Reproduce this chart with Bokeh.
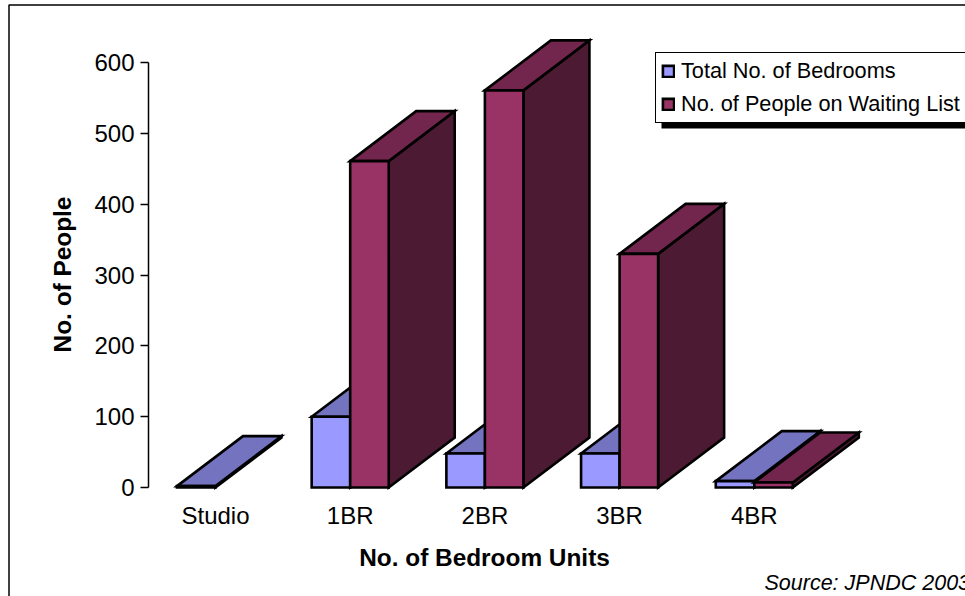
from bokeh.plotting import figure
from bokeh.models import (ColumnDataSource, FixedTicker, Legend, LegendItem, Label, BoxAnnotation)
from bokeh.embed import file_html
from bokeh.resources import INLINE
import numpy as np

categories = ["Studio", "1BR", "2BR", "3BR", "4BR"]
total_bedrooms = [2, 100, 48, 48, 9]
waiting_list = [None, 461, 561, 330, 7]
series_names = ["Total No. of Bedrooms", "No. of People on Waiting List"]
y_ticks = [0, 100, 200, 300, 400, 500, 600]

FONT = "Liberation Sans"
BAR_W = 0.286     # category units
DEPTH_X = 0.49    # category units
DEPTH_Y = 70.6    # value units
W, H = 965, 596

p = figure(width=W, height=H, output_backend="svg", toolbar_location=None,
           x_range=(-1.5961, 5.568), y_range=(-153.95, 687.9),
           min_border_left=0, min_border_right=0, min_border_top=0, min_border_bottom=0,
           background_fill_color="white", border_fill_color="white")
p.outline_line_color = None
p.grid.visible = False

ya = p.yaxis[0]
ya.fixed_location = -0.4974
ya.ticker = FixedTicker(ticks=y_ticks)
ya.bounds = (0, 600)
ya.major_label_text_font = FONT
ya.major_label_text_font_size = "24px"
ya.major_label_text_color = "black"
ya.major_label_standoff = 6
ya.axis_line_color = "black"
ya.axis_line_width = 1.5
ya.major_tick_line_color = "black"
ya.major_tick_line_width = 1.5
ya.major_tick_in = 0
ya.major_tick_out = 8
ya.minor_tick_line_color = None

xa = p.xaxis[0]
xa.fixed_location = -4.24
xa.ticker = FixedTicker(ticks=list(range(len(categories))))
xa.major_label_overrides = {i: c for i, c in enumerate(categories)}
xa.axis_line_color = None
xa.major_tick_line_color = None
xa.minor_tick_line_color = None
xa.major_label_standoff = 5
xa.major_label_text_font = FONT
xa.major_label_text_font_size = "24px"
xa.major_label_text_color = "black"


def faces(values, offset):
    """Front, top and side faces of each bar, from its value."""
    idx = [i for i, v in enumerate(values) if v is not None]
    v = np.array([values[i] for i in idx], dtype=float)
    x0 = np.array(idx, dtype=float) + offset
    x1 = x0 + BAR_W
    front = dict(left=x0, right=x1, top=v, bottom=np.zeros_like(v))
    top = dict(xs=[[a, a + DEPTH_X, b + DEPTH_X, b] for a, b in zip(x0, x1)],
               ys=[[t, t + DEPTH_Y, t + DEPTH_Y, t] for t in v])
    side = dict(xs=[[b, b + DEPTH_X, b + DEPTH_X, b] for b in x1],
                ys=[[0, DEPTH_Y, t + DEPTH_Y, t] for t in v])
    return front, top, side


line = dict(line_color="black", line_width=2.6, line_join="miter")
front_renderers = []
for values, offset, (c_front, c_top, c_side) in [
    (total_bedrooms, -BAR_W, ("#9999FF", "#7373BF", "#4D4D80")),
    (waiting_list, 0.0, ("#993366", "#73264D", "#4D1A33")),
]:
    front, top, side = faces(values, offset)
    p.patches("xs", "ys", source=ColumnDataSource(side), fill_color=c_side, **line)
    p.patches("xs", "ys", source=ColumnDataSource(top), fill_color=c_top, **line)
    front_renderers.append(p.quad(left="left", right="right", top="top", bottom="bottom",
                                  source=ColumnDataSource(front), fill_color=c_front, **line))

# chart-area border
p.add_layout(BoxAnnotation(left=8.5, right=3000, top=4.5, bottom=3000,
                           left_units="canvas", right_units="canvas",
                           top_units="canvas", bottom_units="canvas",
                           fill_alpha=0, line_color="black", line_alpha=1, line_width=1.5))

# legend shadow + legend
p.add_layout(BoxAnnotation(left=661, right=3000, top=128, bottom=122,
                           left_units="canvas", right_units="canvas",
                           top_units="canvas", bottom_units="canvas",
                           fill_color="black", fill_alpha=1, line_color="black", line_alpha=1, line_width=0))
legend = Legend(items=[LegendItem(label=series_names[i], renderers=[front_renderers[i]]) for i in range(2)],
                location=(655, 473), orientation="vertical",
                label_text_font=FONT, label_text_font_size="21.7px", label_text_color="black",
                glyph_width=14, glyph_height=14, label_standoff=6, spacing=7,
                padding=5, margin=0,
                border_line_color="black", border_line_width=1, border_line_alpha=1, background_fill_alpha=1)
p.add_layout(legend)

title_style = dict(text_font=FONT, text_font_style="bold", text_font_size="24.4px", text_color="black",
                   text_align="center", text_baseline="middle", x_units="screen", y_units="screen")
p.add_layout(Label(x=484, y=39, text="No. of Bedroom Units", **title_style))
p.add_layout(Label(x=62, y=322, text="No. of People", angle=np.pi / 2, **title_style))

p.add_layout(Label(x=764, y=14, x_units="screen", y_units="screen", text="Source: JPNDC 2003",
                   text_font=FONT, text_font_style="italic", text_font_size="21.5px",
                   text_color="black", text_baseline="middle"))

open("out.html", "w").write(file_html(p, INLINE))
